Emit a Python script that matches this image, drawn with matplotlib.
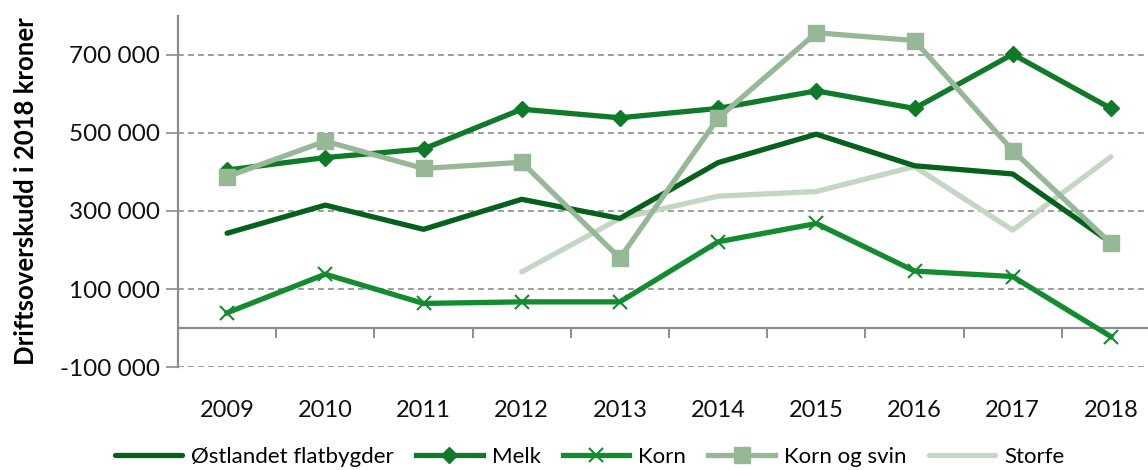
import matplotlib
matplotlib.use("Agg")
import matplotlib.pyplot as plt
import numpy as np
from matplotlib.ticker import FuncFormatter, FixedLocator

years = ["2009", "2010", "2011", "2012", "2013", "2014", "2015", "2016", "2017", "2018"]
ostlandet = [243000, 315000, 253000, 330000, 281000, 424000, 497000, 416000, 395000, 219000]
melk = [405000, 437000, 459000, 561000, 539000, 563000, 608000, 563000, 702000, 563000]
korn = [39000, 138000, 63000, 67000, 67000, 221000, 268000, 146000, 132000, -22000]
korn_svin = [388000, 479000, 409000, 425000, 179000, 538000, 757000, 737000, 455000, 217000]
storfe = [None, None, None, 144000, 281000, 338000, 350000, 414000, 251000, 439000]

plt.rcParams['font.family'] = ['Lato', 'DejaVu Sans']

W, H = 1148, 470
fig = plt.figure(figsize=(W / 100, H / 100), dpi=100)
left, right, top, bottom = 178, 1160, 16, 367
ax = fig.add_axes([left / W, 1 - bottom / H, (right - left) / W, (bottom - top) / H])

x = np.arange(len(years))
lw = 3.8
ax.plot(x, ostlandet, color="#06611c", lw=lw, label="Østlandet flatbygder", solid_capstyle="round", zorder=3)
ax.plot(x, melk, color="#0f7a28", lw=lw, marker="D", ms=8, label="Melk", zorder=4)
ax.plot(x, korn, color="#138b2f", lw=lw, marker="x", ms=10, mew=1.5, label="Korn", zorder=4)
ax.plot(x, korn_svin, color="#97b897", lw=lw, marker="s", ms=11, label="Korn og svin", zorder=4)
st = np.array([np.nan if v is None else v for v in storfe], dtype=float)
ax.plot(x, st, color="#c4d7c4", lw=lw, label="Storfe", solid_capstyle="round", zorder=2)

ax.set_xlim(-0.5, len(years) - 0.5)
ax.set_ylim(-100000, 800000)

yt = [-100000, 100000, 300000, 500000, 700000]
ax.yaxis.set_major_locator(FixedLocator(yt))
ax.yaxis.set_major_formatter(FuncFormatter(lambda v, p: f"{int(v):,}".replace(",", " ")))
for v in yt:
    ax.axhline(v, color="#8c8c8c", lw=1.2, ls=(0, (3.5, 2.5)), zorder=1)
ax.axhline(0, color="#8c8c8c", lw=1.6, zorder=1)

ax.set_xticks(x)
ax.set_xticklabels(years)
ax.tick_params(axis="x", length=0, labelsize=17, pad=24, colors="#111111")
ax.tick_params(axis="y", length=9, width=1.2, color="#8c8c8c", labelsize=17.5, colors="#111111", pad=4)
for xi in np.arange(0.5, len(years) - 0.5, 1.0):
    ax.plot([xi, xi], [0, -24000], color="#8c8c8c", lw=1.4, zorder=1, clip_on=False)

for s in ["top", "right", "bottom"]:
    ax.spines[s].set_visible(False)
ax.spines["left"].set_color("#8c8c8c")
ax.spines["left"].set_linewidth(1.6)

ax.set_ylabel("Driftsoverskudd i 2018 kroner", fontsize=18.5, fontweight="bold", labelpad=16)

fig.legend(loc="center", bbox_to_anchor=(590 / W, 1 - 457 / H), ncol=5, frameon=False,
           fontsize=16, handlelength=3.0, handletextpad=0.4, columnspacing=1.0)

fig.savefig("out.png", dpi=100)
